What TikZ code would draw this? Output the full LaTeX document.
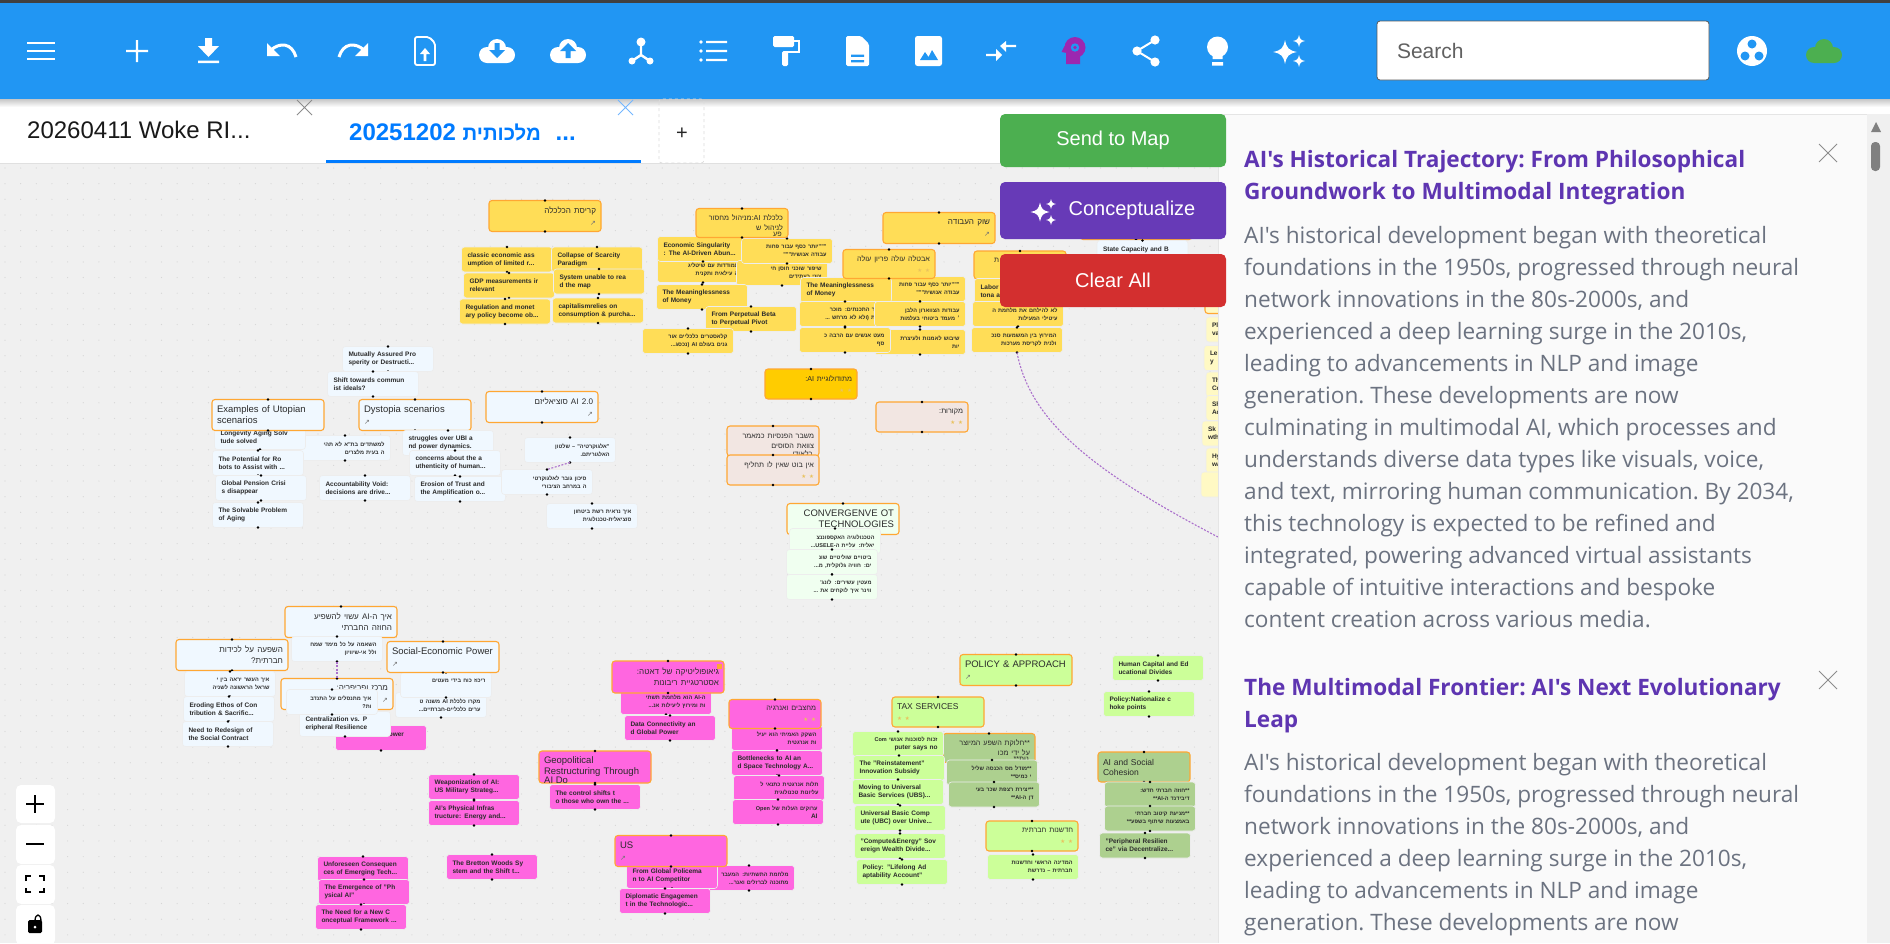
\documentclass[tikz,border=0pt]{standalone}
\usepackage{fontspec}
\usetikzlibrary{positioning}
\setmainfont{Liberation Sans}
\newfontfamily\panelfont{Open Sans}
\newfontfamily\heb[Script=Hebrew,Scale=.85]{Liberation Sans}
\newfontfamily\sym{DejaVu Sans}
\TeXXeTstate=1
\definecolor{barblue}{HTML}{2196F3}
\definecolor{tabblue}{HTML}{007BFF}
\definecolor{mapgray}{HTML}{F0F0F0}
\definecolor{griddot}{HTML}{D6D6D6}
\definecolor{panelgray}{HTML}{FAFAFA}
\definecolor{bodygray}{HTML}{6B7280}
\definecolor{titlepurple}{HTML}{5E35B1}
\definecolor{headpurple}{HTML}{9C27B0}
\definecolor{linkpurple}{HTML}{AB70CC}
\definecolor{sendgreen}{HTML}{4CAF50}
\definecolor{conceptpurple}{HTML}{673AB7}
\definecolor{clearred}{HTML}{D32F2F}
\definecolor{headline}{HTML}{FFA733}
\definecolor{cardtext}{HTML}{2B2B2B}
\definecolor{bluecard}{HTML}{F0F8FF}
\definecolor{yellowcard}{HTML}{FFDD57}
\definecolor{goldcard}{HTML}{FFCC00}
\definecolor{rosecard}{HTML}{F2E6E2}
\definecolor{mintcard}{HTML}{F0FFF0}
\definecolor{pinkcard}{HTML}{FF66E0}
\definecolor{limecard}{HTML}{CCFF99}
\definecolor{olivecard}{HTML}{ADD08F}
\definecolor{creamcard}{HTML}{FFF9C4}
\definecolor{starcolor}{HTML}{E9C25E}
\newcommand{\he}[1]{\leavevmode{\heb\beginR #1\endR}}
\newcommand{\latn}[1]{\beginL #1\endL}
\newcommand{\stars}{{\sym\fontsize{5.5}{5}\selectfont\color{starcolor}★ ★}}
\newcommand{\linkmark}{{\sym\fontsize{7}{6}\selectfont\color{black!55}↗}}
\newcommand{\cutright}[2]{\begin{scope}\clip (#1.south west) rectangle (#1.north east);
\node (#1cut) [anchor=north east,inner sep=0pt,font=\fontsize{8.5}{10}\selectfont,text=cardtext,xshift=-6pt,yshift=6pt] at (#1.south east) {\he{#2}};\end{scope}}
\newcommand{\cutleft}[2]{\begin{scope}\clip (#1.south west) rectangle (#1.north east);
\node (#1cut) [anchor=north west,inner sep=0pt,font=\fontsize{9.5}{11}\selectfont,text=cardtext,xshift=5pt,yshift=6pt] at (#1.south west) {#2};\end{scope}}
\tikzset{
handledot/.style={circle,fill=black,inner sep=0pt,minimum size=2.6pt},
handles/.style={append after command={\pgfextra{\let\cardname\tikzlastnode} (\cardname.north) node (\cardname-n) [handledot] {} (\cardname.south) node (\cardname-s) [handledot] {}}},
card/.style={rectangle,outer sep=0pt,inner ysep=0pt,align=left,text=cardtext,handles},
leaf/.style={card,fill=#1,draw=black!7,line width=.6pt,rounded corners=3pt,minimum width=91pt,minimum height=25pt,inner xsep=6pt,text width=79pt,font=\fontsize{6.5}{8}\selectfont\bfseries},
head/.style={card,fill=#1,draw=headline,line width=1.1pt,rounded corners=3pt,minimum width=112pt,minimum height=31pt,inner xsep=5pt,text width=102pt,font=\fontsize{9.5}{11}\selectfont},
shead/.style={card,fill=#1,draw=headline,line width=1.1pt,rounded corners=3pt,minimum width=92pt,minimum height=30pt,inner xsep=5pt,text width=82pt,font=\fontsize{8.5}{10}\selectfont},
rtl/.style={align=right},
button/.style={rectangle,fill=#1,rounded corners=5pt,minimum width=226pt,outer sep=0pt,text=white,font=\fontsize{20}{24}\selectfont},
zoombox/.style={fill=white,rounded corners=5pt},
paneltitle/.style={anchor=north west,inner sep=0pt,align=left,text=titlepurple,font=\panelfont\fontsize{22.6}{32}\selectfont\bfseries\frenchspacing},
panelbody/.style={anchor=north west,inner sep=0pt,align=left,text=bodygray,font=\panelfont\fontsize{22.6}{32}\selectfont\frenchspacing},
link/.style={draw=linkpurple,line width=1.1pt,dash pattern=on 2pt off 1.5pt},
cloudicon/.pic={\path[pic actions] (0,-3) circle (9pt) (-10,4) circle (8pt) (10,4) circle (8pt) (-10,0) rectangle (10,12);},
sparkle/.pic={\fill[white] (0,-10) .. controls (1.5,-3) and (3,-1.5) .. (10,0) .. controls (3,1.5) and (1.5,3) .. (0,10) .. controls (-1.5,3) and (-3,1.5) .. (-10,0) .. controls (-3,-1.5) and (-1.5,-3) .. (0,-10) -- cycle;},
}
\begin{document}
\begin{tikzpicture}[x=1pt,y=-1pt]
\useasboundingbox (0,0) rectangle (1890,943);
\fill[white] (0,0) rectangle (1890,943);
\fill[mapgray] (0,163) rectangle (1218,943);
\draw[black!12,line width=.8pt] (0,163) -- (1218,163);
\foreach \i in {0,...,77} \foreach \j in {0,...,49} \fill[griddot] (5+15.65*\i,168+15.65*\j) circle (.6pt);

\node (u5) [leaf=bluecard,rtl] at (345,448) {\he{למשתדים בת"א לא תהי}\\\he{ה בעית מלצרים}};
\node (u1) [leaf=bluecard] at (260,437) {Longevity Aging Solv\\tude solved};
\node (u2) [leaf=bluecard,below=1pt of u1,xshift=-2pt] {The Potential for Ro\\bots to Assist with ...};
\node (u3) [leaf=bluecard,below=0pt of u2,xshift=3pt] {Global Pension Crisi\\s disappear};
\node (u4) [leaf=bluecard,below=2pt of u3,xshift=-3pt] {The Solvable Problem\\of Aging};
\node (u6) [head=bluecard] at (268,415) {Examples of Utopian\\scenarios};
\node (d1) [leaf=bluecard] at (388,359) {Mutually Assured Pro\\sperity or Destructi...};
\node (d2) [leaf=bluecard,below=0pt of d1,xshift=-15pt] {Shift towards commun\\ist ideals?};
\node (d7) [leaf=bluecard] at (365,488) {Accountability Void:\\decisions are drive...};
\node (d3) [head=bluecard] at (415,415) {Dystopia scenarios\\[1.5pt]\linkmark};
\node (d4) [leaf=bluecard,below=0pt of d3,xshift=33pt] {struggles over UBI a\\nd power dynamics.};
\node (d5) [leaf=bluecard,below=-5pt of d4,xshift=7pt] {concerns about the a\\uthenticity of human...};
\node (d6) [leaf=bluecard,below=1pt of d5,xshift=5pt] {Erosion of Trust and\\the Amplification o...};
\node (s1) [head=bluecard,rtl] at (542,407) {\he{\latn{AI 2.0} סוציאליזם}\\[1.5pt]\linkmark};
\node (s3) [leaf=bluecard,rtl] at (547,482) {\he{סיכון גובר לאלגוקרטי}\\\he{ה במרחב הציבורי}};
\node (s2) [leaf=bluecard,rtl,above=7pt of s3,xshift=23pt] {\he{"אלגוקרטיה" – שלטון}\\\he{האלגוריתם.}};
\node (s4) [leaf=bluecard,rtl,below=9pt of s3,xshift=45pt] {\he{איך נראית רשת ביטחון}\\\he{סוציאלית-טכנולוגית}};
\draw[link] (s2.south) -- (s3.north);

\node (c1) [head=yellowcard,rtl] at (545,216) {\he{קריסת הכלכלה}\\[1.5pt]\linkmark};
\node (c2) [leaf=yellowcard,below=15.5pt of c1,xshift=-38pt] {classic economic ass\\umption of limited r...};
\node (c3) [leaf=yellowcard,below=1pt of c2,xshift=2pt] {GDP measurements ir\\relevant};
\node (c4) [leaf=yellowcard,below=1pt of c3,xshift=-4pt] {Regulation and monet\\ary policy become ob...};
\node (c5) [leaf=yellowcard,below=15.5pt of c1,xshift=52pt] {Collapse of Scarcity\\Paradigm};
\node (c6) [leaf=yellowcard,below=-3pt of c5,xshift=2pt] {System unable to rea\\d the map};
\node (c7) [leaf=yellowcard,below=4pt of c6,xshift=-1pt] {capitalismrelies on\\consumption \& purcha...};
\node (e5) [leaf=yellowcard,rtl] at (703,270) {\he{התמודדות עם שיטליג}\\\he{גיה עילאית ותקנית}};
\node (e2) [leaf=yellowcard] at (703,249) {Economic Singularity\\: The AI-Driven Abun...};
\node (e4) [leaf=yellowcard,rtl] at (782,273) {\he{שיפור שוכני חוסן חי}\\\he{צוני בעתידים}};
\node (e3) [leaf=yellowcard,rtl] at (787,251) {\he{"""יותר כסף עבור פחות}\\\he{עבודה אנושית"""}};
\node (e1) [shead=yellowcard,rtl,minimum height=29pt] at (742,223) {\he{כלכלת \latn{AI}:מניהול מחסור}\\\he{לניהול ש}};
\cutright{e1}{פע}
\node (e6) [leaf=yellowcard] at (702,297) {The Meaninglessness\\of Money};
\node (a2) [leaf=yellowcard,rtl] at (920,289) {\he{"""יותר כסף עבור פחות}\\\he{עבודה אנושית"""}};
\node (b1) [leaf=yellowcard] at (846,290) {The Meaninglessness\\of Money};
\node (b2) [leaf=yellowcard,rtl] at (845,314) {\he{מחיר התכנתים: מוכר}\\\he{ורשת (ולא לא מרחש ...}};
\node (a3) [leaf=yellowcard,rtl] at (920,314) {\he{עבודות הצווארון הלבן}\\\he{׳ מעמד ביטוחי בעלמות}};
\node (a4) [leaf=yellowcard,rtl] at (920,342) {\he{שיבוש לאמנות ולעיצרת}\\\he{יות}};
\node (b3) [leaf=yellowcard,rtl] at (845,340) {\he{מעט אנשים עם הרבה כ}\\\he{סף}};
\node (e7) [leaf=yellowcard] at (751,319) {From Perpetual Beta\\to Perpetual Pivot};
\node (e8) [leaf=yellowcard,rtl] at (688,341) {\he{קלאסטרים כלכליים אור}\\\he{גנים בעולם \latn{AI} (נכסג...}};
\node (j1) [head=yellowcard,rtl] at (939,228) {\he{שוק העבודה}\\[1.5pt]\linkmark};
\node (a1) [shead=yellowcard,rtl,minimum height=29pt] at (889,264) {\he{אבטלה עולה פריון עולה}\\[1.5pt]\stars};
\node (l1) [shead=yellowcard,minimum height=28pt] at (1020,265) {\hspace*{15pt}\he{ת}\\~};
\node (l2) [leaf=yellowcard] at (1020,291) {Labor I\\tona an};
\node (l3) [leaf=yellowcard,rtl] at (1018,314) {\he{לא להילחם את מלחמת ה}\\\he{עיטילי המעילות}};
\node (l4) [leaf=yellowcard,rtl] at (1017,340) {\he{המירוץ בין המשמעות סנכ}\\\he{ולנית לקריסת מערכות}};
\coordinate (cend) at (1218,537);
\draw[link] (l4.south) .. controls (1030,420) and (1090,470) .. (cend);
\node (k1) [head=bluecard] at (1136,224) {};
\node (k2) [leaf=bluecard] at (1142.5,253) {State Capacity and B\\ureaucratic Albeash};
\node (r1) [head=creamcard] at (1261,298) {};
\node (r2) [leaf=creamcard] at (1251.5,329.5) {Pl\\va};
\node (r3) [leaf=creamcard] at (1249.5,358) {Le\\y};
\node (r4) [leaf=creamcard] at (1251.5,384.5) {Th\\Co};
\node (r5) [leaf=creamcard] at (1251.5,408) {Sh\\Ac};
\node (r6) [leaf=creamcard] at (1247.5,433.5) {Sk\\wth};
\node (r7) [leaf=creamcard] at (1251.5,460.5) {Hy\\wa};
\node (r8) [leaf=creamcard] at (1246.5,484.5) {};

\node (p1) [shead=goldcard,rtl] at (811,384) {\he{מתודולוגיית \latn{AI}:}\\[1.5pt]\stars};
\node (p2) [shead=rosecard,rtl] at (922,417) {\he{מקורות:}\\[1.5pt]\stars};
\node (p3) [shead=rosecard,rtl] at (773,441) {\he{משבר הפנסיות כמאמר}\\\he{צוואת הסוסים}};
\cutright{p3}{בלאודי}
\node (p4) [shead=rosecard,rtl,below=-1pt of p3] {\he{אין בוט שאין לו תחליף}\\[1.5pt]\stars};
\node (g1) [head=mintcard,rtl] at (843,519) {CONVERGENVE OT\\TECHNOLOGIES};
\node (g2) [leaf=mintcard,rtl,below=-6pt of g1,xshift=-8pt] {\he{הטכנולוגיה האקספוננצ}\\\he{יאלית: עליית ה-\latn{USELE}...}};
\node (g3) [leaf=mintcard,rtl,below=-4pt of g2,xshift=-3pt] {\he{ביטויים שוליטיים שונ}\\\he{ים: חוויה גלוקלית, מ...}};
\node (g4) [leaf=mintcard,rtl,below=0pt of g3] {\he{מעטין עשירים: לונג'}\\\he{ווינר איך לוקחים את ...}};

\node (h1) [head=bluecard,rtl] at (341,622) {\he{איך ה-\latn{AI} עשוי להשפיע}\\\he{החוזה החברתי}};
\node (h2) [leaf=bluecard,rtl,below=-1pt of h1,xshift=-4pt] {\he{השאמה על כל מימד שמח}\\\he{ולל אי-שיוויון}};
\node (h3) [head=bluecard,rtl] at (232,655) {\he{השפעה על לכידות}\\\he{חברתית?}};
\node (h4) [leaf=bluecard,rtl,below=1pt of h3,xshift=-2pt] {\he{איך העשר יראה בין י}\\\he{שראל הראשונה לשניה}};
\node (h5) [leaf=bluecard,below=0pt of h4,xshift=-1pt] {Eroding Ethos of Con\\tribution \& Sacrific...};
\node (h6) [leaf=bluecard,below=0pt of h5,xshift=-1pt] {Need to Redesign of\\the Social Contract};
\node (h9) [leaf=bluecard,rtl] at (441,705) {\he{מקרו כלכלת \latn{AI} משנה ט}\\\he{ערים כלכליים-חברתיים...}};
\node (h8) [leaf=bluecard,rtl,above=-5pt of h9,xshift=5pt] {\he{ריכוז כוח בידי מעטים}\\~};
\node (h7) [head=bluecard] at (443,657) {Social-Economic Power\\[1.5pt]\linkmark};
\node (f9) [leaf=pinkcard] at (381,738) {\hspace*{43pt}Power\\~};
\node (h12) [leaf=bluecard] at (345,724) {Centralization vs. P\\eripheral Resilience};
\node (h10) [head=bluecard,rtl] at (337,694) {\he{מרכז ופריפריה:}\\[1.5pt]\linkmark};
\node (h11) [leaf=bluecard,rtl] at (332,702) {\he{איך מתנסלים על התנדב}\\\he{ות?}};
\draw[link] (h2.south) -- (h10.north);

\node (f2) [leaf=pinkcard,rtl] at (666,702) {\he{ה-\latn{AI} הוא מלחמת תשתי}\\\he{ות ומירוץ ליעילות אנ...}};
\node (f3) [leaf=pinkcard,below=1pt of f2,xshift=4pt] {Data Connectivity an\\d Global Power};
\node (f1) [head=pinkcard,rtl,minimum height=32pt,above=-3.5pt of f2,xshift=2pt] {\he{גיאופוליטיקה של דאטה:}\\\he{אסטרטגיית ריבונות}};
\fill[headline] (716.5,663.5) rectangle (721.5,668.5);
\node (i2) [leaf=pinkcard,rtl] at (777,738) {\he{השקק האמיתי הוא יעיל}\\\he{ות אנרגטית}};
\node (i3) [leaf=pinkcard,below=0pt of i2] {Bottlenecks to AI an\\d Space Technology A...};
\node (i4) [leaf=pinkcard,rtl,below=0pt of i3,xshift=2pt] {\he{תלות אנרגטית כתנאי ל}\\\he{עליונות טכנולוגית}};
\node (i5) [leaf=pinkcard,rtl,below=-1pt of i4,xshift=-1pt] {\he{ערוקים העלות של \latn{Open}}\\\latn{AI}};
\node (i1) [shead=pinkcard,rtl,minimum height=29pt,above=-3pt of i2,xshift=-2pt] {\he{מחצבים ואנרגיה}\\[1.5pt]\stars};
\node (w1) [leaf=pinkcard] at (474,787) {Weaponization of AI:\\US Military Strateg...};
\node (w2) [leaf=pinkcard,below=1pt of w1] {AI's Physical Infras\\tructure: Energy and...};
\node (q1) [head=pinkcard,minimum height=32pt] at (595,767) {Geopolitical\\Restructuring Through};
\cutleft{q1}{AI Do}
\node (q2) [leaf=pinkcard,below=1.5pt of q1] {The control shifts t\\o those who own the ...};
\node (n1) [leaf=pinkcard] at (363,869) {Unforeseen Consequen\\ces of Emerging Tech...};
\node (n2) [leaf=pinkcard,below=-2pt of n1,xshift=1pt] {The Emergence of "Ph\\ysical AI"};
\node (n3) [leaf=pinkcard,below=0pt of n2,xshift=-3pt] {The Need for a New C\\onceptual Framework ...};
\node (n4) [leaf=pinkcard] at (492,867) {The Bretton Woods Sy\\stem and the Shift t...};
\node (v3) [leaf=pinkcard,rtl] at (749,878) {\he{מלחמת התשתיות: המעבר}\\\he{מתוכנה לברזלים ואנר...}};
\node (v2) [leaf=pinkcard] at (672,876) {From Global Policema\\n to AI Competitor};
\node (v4) [leaf=pinkcard,below=0pt of v2,xshift=-7pt] {Diplomatic Engagemen\\t in the Technologic...};
\node (v1) [head=pinkcard] at (671,851) {US\\[1.5pt]\linkmark};

\node (t1) [head=limecard] at (1016,670) {POLICY \& APPROACH\\[1.5pt]\linkmark};
\node (o1) [leaf=limecard] at (1158,668) {Human Capital and Ed\\ucational Divides};
\node (o2) [leaf=limecard] at (1149,704) {Policy:Nationalize c\\hoke points};
\node (x1) [shead=limecard] at (938,712) {TAX SERVICES\\[1.5pt]\stars};
\node (y1) [shead=olivecard,rtl,minimum height=29pt] at (989,748) {\he{**חלוקת השפע המיוצר}\\\he{על ידי מכו}};
\cutright{y1}{נות**}
\node (y2) [leaf=olivecard,rtl,below=-2.5pt of y1,xshift=3pt] {\he{**מודל מס הכנסה שליל}\\\he{י כמיס**}};
\node (y3) [leaf=olivecard,rtl,below=-3pt of y2,xshift=2pt] {\he{**יצירת רצפת שכר בעי}\\\he{דן ה-\latn{AI}**}};
\node (x2) [leaf=limecard,rtl] at (898,744) {\he{זכות לסוכנות אנושי \latn{Com}}\\\latn{puter says no}};
\node (x3) [leaf=limecard,below=-1pt of x2,xshift=1pt] {The "Reinstatement"\\Innovation Subsidy};
\node (x4) [leaf=limecard,below=-1pt of x3,xshift=-1pt] {Moving to Universal\\Basic Services (UBS)...};
\node (x5) [leaf=limecard,below=1pt of x4,xshift=2pt] {Universal Basic Comp\\ute (UBC) over Unive...};
\node (x6) [leaf=limecard,below=3pt of x5] {"Compute\&Energy" Sov\\ereign Wealth Divide...};
\node (x7) [leaf=limecard,below=1pt of x6,xshift=2pt] {Policy: "Lifelong Ad\\aptability Account"};
\node (z1) [shead=limecard,rtl] at (1032,836) {\he{חדשנות חברתית}\\[1.5pt]\stars};
\node (z2) [leaf=limecard,rtl,below=3.5pt of z1,xshift=1pt] {\he{המדינה הראשי וחדשנות}\\\he{חברתית – נדרשת}};
\node (z3) [shead=olivecard] at (1144,767) {AI and Social\\Cohesion};
\node (z4) [leaf=olivecard,rtl,below=0pt of z3,xshift=6pt] {\he{**חוזה חברתי חדש:}\\\he{דיבידנד ה-\latn{AI}**}};
\node (z5) [leaf=olivecard,rtl,below=-1pt of z4] {\he{**מניעת קיטוב חברתי}\\\he{באמצעות שיתוף בשפע**}};
\node (z6) [leaf=olivecard,below=2pt of z5,xshift=-5pt] {"Peripheral Resilien\\ce" via Decentralize...};

\fill[panelgray] (1218,114) rectangle (1890,943);
\draw[black!10,line width=.8pt] (1218,114) -- (1218,943) (1218,114) -- (1890,114);
\fill[black!6] (1867,114) rectangle (1890,943);
\fill[black!50] (1871,132) -- (1876,122) -- (1881,132) -- cycle;
\fill[black!50,rounded corners=4pt] (1871,142) rectangle (1880,171);
\node (title1) [paneltitle] at (1244,150) {AI's Historical Trajectory: From Philosophical\\Groundwork to Multimodal Integration};
\node (body1) [panelbody] at (1244,226) {AI's historical development began with theoretical\\foundations in the 1950s, progressed through neural\\network innovations in the 80s-2000s, and\\experienced a deep learning surge in the 2010s,\\leading to advancements in NLP and image\\generation. These developments are now\\culminating in multimodal AI, which processes and\\understands diverse data types like visuals, voice,\\and text, mirroring human communication. By 2034,\\this technology is expected to be refined and\\integrated, powering advanced virtual assistants\\capable of intuitive interactions and bespoke\\content creation across various media.};
\node (title2) [paneltitle] at (1244,678) {The Multimodal Frontier: AI's Next Evolutionary\\Leap};
\node (body2) [panelbody] at (1244,753) {AI's historical development began with theoretical\\foundations in the 1950s, progressed through neural\\network innovations in the 80s-2000s, and\\experienced a deep learning surge in the 2010s,\\leading to advancements in NLP and image\\generation. These developments are now};
\draw[black!45,line width=1pt] (1819,144) -- (1837,162) (1837,144) -- (1819,162);
\draw[black!45,line width=1pt] (1819,671) -- (1837,689) (1837,671) -- (1819,689);

\node (send) [button=sendgreen,minimum height=53pt] at (1113,140.5) {\raisebox{-2pt}{Send to Map}};
\node (concept) [button=conceptpurple,minimum height=57pt] at (1113,210.5) {\hspace*{38pt}\raisebox{-2pt}{Conceptualize}};
\node (clear) [button=clearred,minimum height=53pt] at (1113,280.5) {Clear All};
\pic[scale=.95] at (1040,212) {sparkle};
\pic[scale=.5] at (1051,204) {sparkle};
\pic[scale=.5] at (1051,220) {sparkle};

\fill[zoombox] (16,785) rectangle (55,823);
\fill[zoombox] (16,825) rectangle (55,864);
\fill[zoombox] (16,865) rectangle (55,904);
\fill[zoombox] (16,905) rectangle (55,945);
\draw[black,line width=1.8pt] (26,804) -- (44,804) (35,795) -- (35,813) (26,844) -- (44,844);
\draw[black,line width=1.3pt] (26,881) -- (26,876) -- (31,876) (39,876) -- (44,876) -- (44,881) (44,888) -- (44,892) -- (39,892) (31,892) -- (26,892) -- (26,888);
\draw[black,line width=1.3pt] (35,921) .. controls (35,913) and (41,913) .. (41,921);
\fill[black,rounded corners=1.5pt] (28,920) rectangle (42,933);
\fill[white] (35,927) circle (1.5pt);

\fill[white] (0,99) rectangle (1000,163);
\fill[white] (1000,99) rectangle (1890,114);
\fill[tabblue] (326,160) rectangle (641,163);
\shade[top color=black!22,bottom color=white] (0,99) rectangle (1890,107);
\fill[black!75] (0,0) rectangle (1890,3);
\fill[barblue] (0,3) rectangle (1890,99);
\draw[black!14,dashed,line width=.7pt,rounded corners=3pt] (659,99) rectangle (704,163);
\node (tab1) [anchor=west,inner sep=0pt,font=\fontsize{24}{28}\selectfont,text=black!90] at (27,130) {20260411 Woke RI...};
\node (tab2) [anchor=west,inner sep=0pt,font=\fontsize{24}{28}\selectfont\bfseries,text=tabblue] at (349,132) {20251202 \he{מלכותית}\hspace{8pt} ...};
\node (tabadd) [inner sep=0pt,font=\fontsize{20}{24}\selectfont,text=black!85] at (682,134) {+};
\draw[black!45,line width=.8pt] (297,100) -- (312,115) (312,100) -- (297,115);
\draw[tabblue!55,line width=.8pt] (618,100) -- (633,115) (633,100) -- (618,115);

\foreach \yy in {43,51,59} \fill[white] (27,\yy-1.3) rectangle (55,\yy+1.3);
\fill[white] (126,49.8) rectangle (148,52.2) (135.8,40) rectangle (138.2,62);
\fill[white] (198,60.5) rectangle (219,63) (205,38) rectangle (212,46) (198,46) -- (219,46) -- (208.5,57) -- cycle;
\fill[white] (267,43) -- (267,56) -- (280,56) -- cycle (368,43) -- (368,56) -- (355,56) -- cycle;
\draw[white,line width=3pt] (271,50) .. controls (280,42) and (292,43) .. (296,57) (364,50) .. controls (355,42) and (343,43) .. (339,57);
\draw[white,line width=1.8pt,rounded corners=2pt] (415,37) -- (429,37) -- (435,43) -- (435,65) -- (415,65) -- cycle;
\fill[white] (420,54) -- (430,54) -- (425,48) -- cycle (423.7,54) rectangle (426.3,61);
\pic[fill=white] at (497,51) {cloudicon};
\fill[barblue] (494.5,43) rectangle (499.5,50) (489,50) -- (505,50) -- (497,58) -- cycle;
\pic[fill=white] at (568,51) {cloudicon};
\fill[barblue] (565.5,51) rectangle (570.5,58) (560,51) -- (576,51) -- (568,43) -- cycle;
\draw[white,line width=2.4pt] (641,44) -- (641,55) -- (632,61) (641,55) -- (650,61);
\fill[white] (641,42) circle (4.5pt) (632,61) circle (3.5pt) (650,61) circle (3.5pt);
\foreach \yy in {42,51,60} \fill[white] (701,\yy) circle (1.8pt) (706,\yy-1.2) rectangle (727,\yy+1.2);
\fill[white,rounded corners=1.5pt] (773,36) rectangle (794,47) (782,51) rectangle (788,66);
\draw[white,line width=2pt] (794,41) -- (798.5,41) -- (798.5,52) -- (785,52);
\fill[white,rounded corners=1.5pt] (846,36) -- (861,36) -- (869,44) -- (869,66) -- (846,66) -- cycle;
\fill[barblue] (851,54.5) rectangle (864,56.8) (851,60) rectangle (864,62.3);
\fill[white,rounded corners=2.5pt] (915,36) rectangle (942,66);
\fill[barblue] (920,60) -- (925,52) -- (928.5,57) -- (932,50) -- (938,60) -- cycle;
\fill[white] (986,53.8) rectangle (996,56.2) (996,49) -- (996,61) -- (1002,55) -- cycle;
\fill[white] (1006,44.8) rectangle (1016,47.2) (1006,41) -- (1006,52) -- (1000,46) -- cycle;
\fill[headpurple] (1075,47.5) circle (10.5pt) (1066,52) rectangle (1080,64) (1064.5,46) -- (1061.5,52) -- (1067,53) -- cycle;
\fill[barblue] (1075,47.5) circle (4.2pt);
\fill[headpurple] (1075,47.5) circle (1.8pt);
\draw[white,line width=2pt] (1155,40) -- (1137,51) -- (1155,62);
\fill[white] (1155,40) circle (4.6pt) (1137,51) circle (4.6pt) (1155,62) circle (4.6pt);
\fill[white] (1217.5,47) circle (10.5pt) (1212.5,52) rectangle (1222.5,59) (1212,62) rectangle (1223,65.5);
\pic[scale=1.2] at (1285,52) {sparkle};
\pic[scale=.6] at (1299,41) {sparkle};
\pic[scale=.6] at (1299,61) {sparkle};
\node (search) [rectangle,fill=white,draw=black!65,line width=.8pt,rounded corners=3pt,minimum width=332pt,minimum height=59pt,inner xsep=20pt,text width=292pt,align=left,text=black!62,font=\fontsize{21}{25}\selectfont] at (1543,50.5) {Search};
\fill[white] (1752,51) circle (15pt);
\fill[barblue] (1752,44) circle (4.5pt) (1745,56) circle (4.5pt) (1759,56) circle (4.5pt);
\pic[fill=sendgreen] at (1824,51) {cloudicon};
\end{tikzpicture}
\end{document}
